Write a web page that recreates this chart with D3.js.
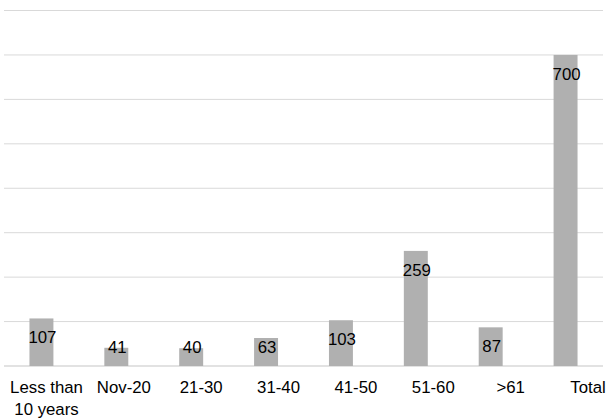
<!DOCTYPE html>
<html><head><meta charset="utf-8">
<script src="https://cdn.jsdelivr.net/npm/d3@7"></script>
<style>body{margin:0;background:#fff}svg{display:block}</style>
</head><body>
<script>
const categories = ["Less than 10 years","Nov-20","21-30","31-40","41-50","51-60",">61","Total"];
const values = [107,41,40,63,103,259,87,700];
const gridTicks = [0,100,200,300,400,500,600,700,800];

const W=607,H=418;
const svg=d3.select("body").append("svg").attr("width",W).attr("height",H);
const y=d3.scaleLinear().domain([0,800]).range([366,10.5]);
const x=d3.scaleBand().domain(categories).range([4,603]).paddingInner(0.68).paddingOuter(0.34);
const xl=d3.scalePoint().domain(categories).range([46.5,588]);

svg.append("g").selectAll("line").data(gridTicks).join("line")
  .attr("x1",4).attr("x2",603).attr("y1",d=>y(d)).attr("y2",d=>y(d))
  .attr("stroke","#d9d9d9").attr("stroke-width",d=>d===0?1.5:1);

svg.append("g").selectAll("rect").data(values).join("rect")
  .attr("x",(d,i)=>x(categories[i])).attr("width",x.bandwidth())
  .attr("y",d=>y(d)).attr("height",d=>y(0)-y(d)).attr("fill","#b0b0b0");

svg.append("g").selectAll("text").data(values).join("text")
  .attr("x",(d,i)=>x(categories[i])+x.bandwidth()/2+1)
  .attr("y",d=>Math.min(y(d)+25,y(0)-13))
  .attr("text-anchor","middle").attr("font-family","Liberation Sans, Arial, sans-serif")
  .attr("font-size",16.8).attr("fill","#000").text(d=>d);

const lab=svg.append("g").selectAll("text").data(categories).join("text")
  .attr("x",d=>xl(d)).attr("y",393).attr("text-anchor","middle")
  .attr("font-family","Liberation Sans, Arial, sans-serif").attr("font-size",16.8).attr("fill","#000");
lab.each(function(d){
  const t=d3.select(this);
  const parts=d==="Less than 10 years"?["Less than","10 years"]:[d];
  parts.forEach((p,k)=>t.append("tspan").attr("x",xl(d)).attr("dy",k?21.5:0).text(p));
});
</script>
</body></html>
